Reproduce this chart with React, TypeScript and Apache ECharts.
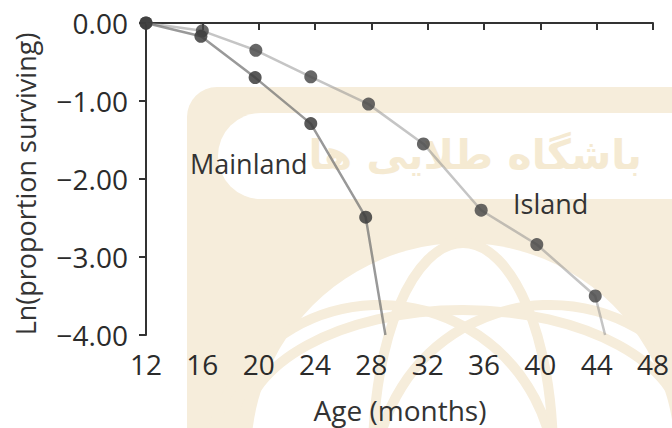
import React, { useEffect, useRef } from "react";
import * as echarts from "echarts";

const xTicks = [12, 16, 20, 24, 28, 32, 36, 40, 44, 48];
const yTickLabels = ["0.00", "\u22121.00", "\u22122.00", "\u22123.00", "\u22124.00"];

const mainlandAge = [12, 15.9, 19.75, 23.7, 27.6, 29.0];
const mainlandLn = [0, -0.17, -0.7, -1.29, -2.49, -4.0];
const mainlandMarked = [true, true, true, true, true, false];

const islandAge = [12, 16, 19.8, 23.7, 27.8, 31.7, 35.8, 39.75, 43.9, 44.6];
const islandLn = [0, -0.1, -0.35, -0.69, -1.04, -1.55, -2.4, -2.84, -3.5, -4.0];
const islandMarked = [true, true, true, true, true, true, true, true, true, false];

const FONT = "'Open Sans', 'Noto Sans', sans-serif";
const BEIGE = "#f6eddb";

function buildData(xs: number[], ys: number[], marked: boolean[]) {
  return xs.map((x, i) => ({ value: [x, ys[i]], symbol: marked[i] ? "circle" : "none" }));
}

export default function App() {
  const ref = useRef<HTMLDivElement>(null);
  useEffect(() => {
    if (!ref.current) return;
    const chart = echarts.init(ref.current, undefined, { renderer: "svg" });
    const labelMap: Record<string, string> = {};
    [0, -1, -2, -3, -4].forEach((v, i) => (labelMap[String(v)] = yTickLabels[i]));
    chart.setOption({
      animation: false,
      backgroundColor: "#ffffff",
      grid: { left: 146, right: 17, top: 23, bottom: 93 },
      xAxis: {
        type: "value",
        min: 12,
        max: 48,
        interval: 4,
        axisLine: { show: true, lineStyle: { color: "#333", width: 2 } },
        axisTick: { show: true, length: 7, lineStyle: { color: "#333", width: 2 } },
        axisLabel: {
          margin: 15,
          color: "#2b2b2b",
          fontSize: 28,
          fontFamily: FONT,
          formatter: (v: number) => (xTicks.includes(v) ? String(v) : ""),
        },
        splitLine: { show: false },
      },
      yAxis: {
        type: "value",
        min: -4,
        max: 0,
        interval: 1,
        axisLine: { show: true, lineStyle: { color: "#333", width: 2 } },
        axisTick: { show: true, length: 7, lineStyle: { color: "#333", width: 2 } },
        axisLabel: {
          margin: 18,
          color: "#2b2b2b",
          fontSize: 28,
          fontFamily: FONT,
          formatter: (v: number) => labelMap[String(Math.round(v))] ?? "",
        },
        splitLine: { show: false },
      },
      graphic: [
        {
          type: "rect",
          z: -10,
          shape: { x: 187, y: 87, width: 520, height: 360, r: [30, 0, 0, 0] },
          style: { fill: BEIGE },
        },
        {
          type: "rect",
          z: -9,
          shape: { x: 218, y: 113, width: 520, height: 86, r: 43 },
          style: { fill: "#ffffff" },
        },
        {
          type: "text",
          z: -8,
          x: 642,
          y: 155,
          style: {
            text: "باشگاه طلایی ها",
            fill: "#f5ead2",
            font: "bold 41px 'DejaVu Sans', sans-serif",
            textAlign: "right",
            textVerticalAlign: "middle",
          },
        },
        {
          type: "circle",
          z: -9,
          shape: { cx: 463, cy: 455, r: 212 },
          style: { fill: "#ffffff" },
        },
        {
          type: "circle",
          z: -8,
          shape: { cx: 380, cy: 480, r: 175 },
          style: { fill: "none", stroke: BEIGE, lineWidth: 10 },
        },
        {
          type: "circle",
          z: -8,
          shape: { cx: 550, cy: 480, r: 175 },
          style: { fill: "none", stroke: BEIGE, lineWidth: 10 },
        },
        {
          type: "ellipse",
          z: -8,
          shape: { cx: 463, cy: 430, rx: 220, ry: 120 },
          style: { fill: "none", stroke: BEIGE, lineWidth: 10 },
        },
        {
          type: "ellipse",
          z: -8,
          shape: { cx: 463, cy: 455, rx: 90, ry: 212 },
          style: { fill: "none", stroke: BEIGE, lineWidth: 10 },
        },
        {
          type: "text",
          x: 190,
          y: 163,
          style: {
            text: "Mainland",
            fill: "#333",
            font: `27px ${FONT}`,
            textAlign: "left",
            textVerticalAlign: "middle",
          },
        },
        {
          type: "text",
          x: 513,
          y: 203,
          style: {
            text: "Island",
            fill: "#333",
            font: `27px ${FONT}`,
            textAlign: "left",
            textVerticalAlign: "middle",
          },
        },
        {
          type: "text",
          x: 400,
          y: 410,
          style: {
            text: "Age (months)",
            fill: "#333",
            font: `28px ${FONT}`,
            textAlign: "center",
            textVerticalAlign: "middle",
          },
        },
        {
          type: "text",
          x: 25,
          y: 184,
          rotation: Math.PI / 2,
          style: {
            text: "Ln(proportion surviving)",
            fill: "#333",
            font: `27px ${FONT}`,
            textAlign: "center",
            textVerticalAlign: "middle",
          },
        },
      ],
      series: [
        {
          name: "Island",
          type: "line",
          data: buildData(islandAge, islandLn, islandMarked),
          symbolSize: 13,
          lineStyle: { color: "rgba(140,140,140,0.5)", width: 2.5 },
          itemStyle: { color: "rgba(70,70,70,0.82)" },
          z: 3,
        },
        {
          name: "Mainland",
          type: "line",
          data: buildData(mainlandAge, mainlandLn, mainlandMarked),
          symbolSize: 13,
          lineStyle: { color: "rgba(110,110,110,0.7)", width: 2.5 },
          itemStyle: { color: "rgba(60,60,60,0.85)" },
          z: 4,
        },
      ],
    });
    return () => chart.dispose();
  }, []);
  return <div ref={ref} style={{ width: 672, height: 428, position: "absolute", left: 0, top: 0 }} />;
}
